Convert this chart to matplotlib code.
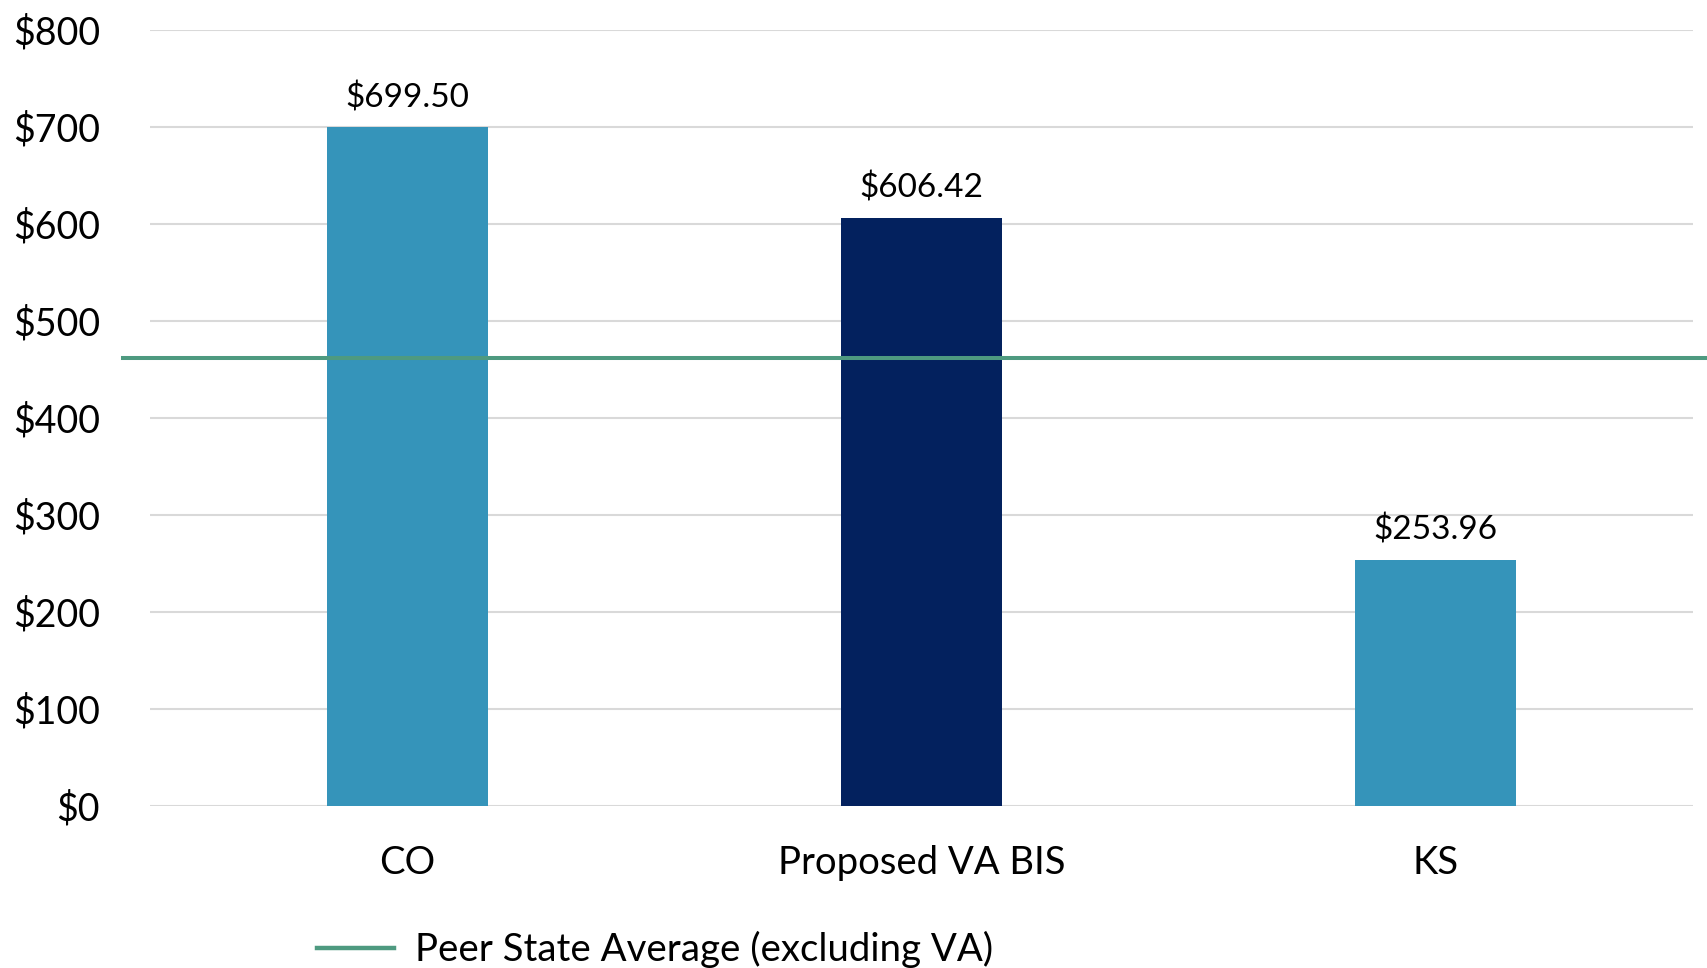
import matplotlib.pyplot as plt
from matplotlib.lines import Line2D

categories = ["CO", "Proposed VA BIS", "KS"]
values = [699.50, 606.42, 253.96]
bar_colors = ["#3594BA", "#03215E", "#3594BA"]
peer_avg = 462
peer_label = "Peer State Average (excluding VA)"
yticks = [0, 100, 200, 300, 400, 500, 600, 700, 800]

plt.rcParams['font.family'] = ['Lato', 'DejaVu Sans']

fig = plt.figure(figsize=(17.08, 9.68), dpi=100)
ax = fig.add_axes([0.0878, 0.1674, 0.9034, 0.8016])

x = list(range(len(categories)))
bars = ax.bar(x, values, width=0.313, color=bar_colors, zorder=3)

for xi, v in zip(x, values):
    ax.annotate(f"${v:,.2f}", (xi, v), xytext=(0, 10), textcoords="offset points",
                ha="center", va="bottom", fontsize=24)

# peer average line runs a bit past the plot area on both sides
avg_line = Line2D([-0.0175, 1.0097], [peer_avg, peer_avg], color="#4E9A80", lw=2.9,
                  transform=ax.get_yaxis_transform(), clip_on=False, zorder=4)
ax.add_line(avg_line)

ax.set_xlim(-0.5, 2.5)
ax.set_ylim(0, 800)
ax.set_yticks(yticks)
ax.set_yticklabels([f"${t}" for t in yticks])
ax.set_xticks(x)
ax.set_xticklabels(categories)
ax.tick_params(axis="y", length=0, pad=36, labelsize=27)
ax.tick_params(axis="x", length=0, pad=28, labelsize=27.5)
ax.grid(axis="y", color="#D9D9D9", lw=1.5, zorder=0)
for s in ax.spines.values():
    s.set_visible(False)

handle = Line2D([], [], color="#4E9A80", lw=3.2)
fig.legend([handle], [peer_label], loc="center left", bbox_to_anchor=(0.1856, 0.0187),
           frameon=False, fontsize=27.6, handlelength=2.0, handletextpad=0.55,
           borderpad=0, borderaxespad=0)

fig.savefig("out.png", dpi=100)
